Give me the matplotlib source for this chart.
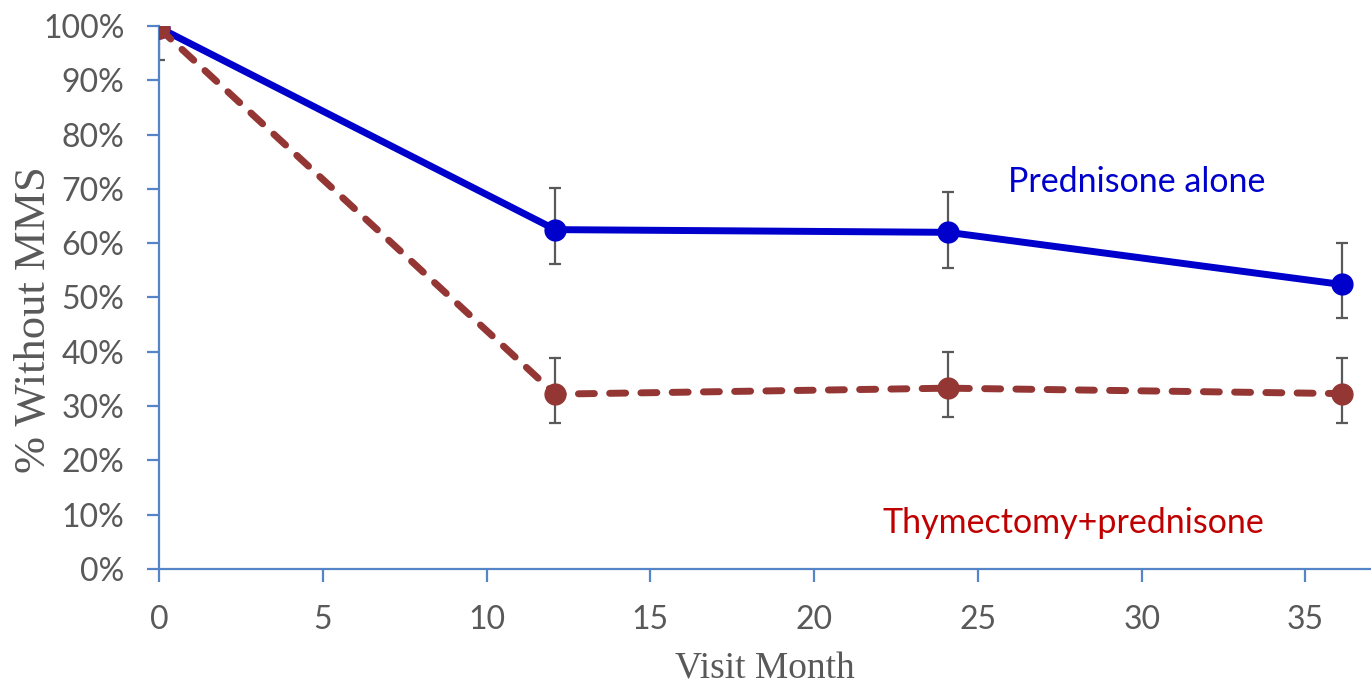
import numpy as np
import matplotlib.pyplot as plt
from matplotlib.ticker import PercentFormatter

# visit months and % of patients without minimal manifestation status
months = [0, 12.1, 24.1, 36.1]

pred_alone = [99.7, 62.5, 62.0, 52.4]
pred_alone_hi = [99.7, 70.2, 69.4, 60.0]
pred_alone_lo = [99.7, 56.2, 55.4, 46.2]

thym_pred = [99.6, 32.2, 33.3, 32.3]
thym_pred_hi = [99.6, 38.9, 40.0, 38.9]
thym_pred_lo = [93.7, 26.9, 28.0, 26.9]

x_ticks = [0, 5, 10, 15, 20, 25, 30, 35]
y_ticks = [0, 10, 20, 30, 40, 50, 60, 70, 80, 90, 100]

axis_col = '#5585C8'
text_col = '#595959'

fig = plt.figure(figsize=(13.71, 6.9), dpi=100)
ax = fig.add_axes([0.116, 0.1754, 0.884, 0.7869])

def err(y, hi, lo):
    y = np.array(y)
    return [y - np.array(lo), np.array(hi) - y]

# blue solid series
ax.errorbar(months, pred_alone, yerr=err(pred_alone, pred_alone_hi, pred_alone_lo),
            fmt='none', ecolor=text_col, elinewidth=1.6, capsize=4.5, capthick=1.6, zorder=2)
ax.plot(months, pred_alone, color='#0000CC', lw=5, marker='o', markersize=15,
        solid_capstyle='round', zorder=3)

# red dashed series
ax.errorbar(months, thym_pred, yerr=err(thym_pred, thym_pred_hi, thym_pred_lo),
            fmt='none', ecolor=text_col, elinewidth=1.6, capsize=4.5, capthick=1.6, zorder=2)
ax.plot(months, thym_pred, color='#943634', lw=5, linestyle=(0, (2.3, 2.2)),
        dash_capstyle='round', marker='o', markersize=15, zorder=4)

ax.set_xlim(0, 37)
ax.set_ylim(0, 100)
ax.set_xticks(x_ticks)
ax.set_yticks(y_ticks)
ax.yaxis.set_major_formatter(PercentFormatter(decimals=0))

for side in ['top', 'right']:
    ax.spines[side].set_visible(False)
for side in ['left', 'bottom']:
    ax.spines[side].set_color(axis_col)
    ax.spines[side].set_linewidth(1.6)

ax.tick_params(axis='both', direction='out', length=9, width=1.6, color=axis_col,
               labelcolor=text_col, labelsize=23)
ax.tick_params(axis='x', pad=17)
ax.tick_params(axis='y', pad=16)
for lab in ax.get_xticklabels() + ax.get_yticklabels():
    lab.set_family('Lato')

ax.set_xlabel('Visit Month', family='Liberation Serif', fontsize=27, color=text_col)
ax.xaxis.set_label_coords(0.5, -0.152)
ax.set_ylabel('% Without MMS', family='Liberation Serif', fontsize=32, color=text_col)
ax.yaxis.set_label_coords(-0.087, 0.46)

ax.text(29.85, 71.2, 'Prednisone alone', color='#0000CC', fontsize=24.5, family='Lato',
        ha='center', va='center')
ax.text(27.9, 8.4, 'Thymectomy+prednisone', color='#C00000', fontsize=24.5, family='Lato',
        ha='center', va='center')

fig.savefig('out.png', dpi=100)
